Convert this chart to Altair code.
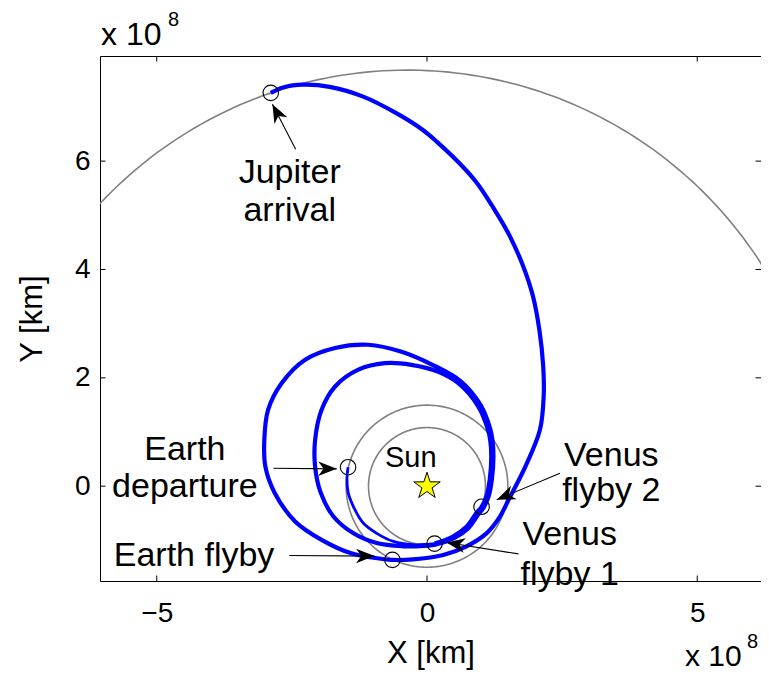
import numpy as np
import pandas as pd
import altair as alt

FONT = "Liberation Sans"

# ---------------- data (units of 1e8 km) ----------------
# launch leg: Earth departure -> Venus flyby 1 (drawn thinner)
departure_x = [-1.46, -1.48, -1.46, -1.36, -1.18, -0.93, -0.62, -0.26, 0.14]
departure_y = [0.35, 0.15, -0.11, -0.38, -0.68, -0.87, -1.02, -1.08, -1.06]

# cruise: VF1 -> inner loop -> VF2 -> outer loop -> Earth flyby -> Jupiter
cruise_x = [0.14, 0.48, 0.73, 0.91, 1.01, 1.10, 1.16, 1.19, 1.17, 1.13, 0.95, 0.58,
            0.21, -0.29, -0.78, -1.27, -1.70, -1.95, -2.07, -2.07, -1.97, -1.73, -1.36,
            -0.93, -0.44, -0.19, 0.15,
            0.50, 0.76, 0.95, 1.05, 1.14, 1.20, 1.23, 1.21, 1.17, 0.99, 0.62, 0.10,
            -0.47, -1.09, -1.70, -2.26, -2.69, -2.94, -3.01, -2.99, -2.82, -2.44, -1.95,
            -1.40, -0.99, -0.64,
            -0.26, 0.30, 0.73, 1.10, 1.35, 1.51, 1.82, 2.09, 2.16, 2.15, 2.08, 1.96, 1.78,
            1.53, 1.22, 0.92, 0.61, 0.18, -0.07, -0.56, -1.18, -1.80, -2.29, -2.66, -2.89]
cruise_y = [-1.06, -0.93, -0.75, -0.50, -0.38, -0.19, 0.12, 0.55, 0.85, 1.04, 1.47, 1.90,
            2.11, 2.24, 2.27, 2.15, 1.84, 1.41, 0.85, 0.36, -0.11, -0.56, -0.87,
            -1.05, -1.11, -1.11, -1.08,
            -0.96, -0.78, -0.52, -0.39, -0.19, 0.12, 0.55, 0.86, 1.06, 1.50, 1.94, 2.24,
            2.48, 2.61, 2.55, 2.33, 1.90, 1.41, 0.85, 0.36, -0.12, -0.65, -0.99,
            -1.24, -1.32, -1.36,
            -1.35, -1.27, -1.11, -0.87, -0.56, -0.25, 0.36, 1.04, 1.68, 2.22, 2.88, 3.51, 4.06,
            4.62, 5.15, 5.60, 5.95, 6.36, 6.57, 6.88, 7.19, 7.37, 7.41, 7.36, 7.26]

# planetary orbits
orbit_body = ["Venus", "Earth", "Jupiter"]
orbit_a = [1.082, 1.496, 7.785]
orbit_e = [0.0, 0.0, 0.0489]
orbit_peri_deg = [0.0, 0.0, 14.75]

# encounter markers
event_x = [-1.46, 0.14, 1.01, -0.64, -2.89]
event_y = [0.35, -1.06, -0.38, -1.36, 7.26]

sun_x = [0.0]
sun_y = [0.0]

# annotation labels (baseline positions, data units)
label_text = ["Jupiter", "arrival", "Earth", "departure", "Earth flyby",
              "Venus", "flyby 2", "Venus", "flyby 1"]
label_x = [-2.54, -2.54, -4.48, -4.48, -4.31, 3.41, 3.41, 2.64, 2.64]
label_y = [5.59, 4.89, 0.49, -0.20, -1.47, 0.37, -0.28, -1.09, -1.82]

sun_text = ["Sun"]
sun_label_x = [-0.30]
sun_label_y = [0.35]

# arrows: tail -> tip
arrow_x = [-2.43, -2.84, -2.55, 2.46, 1.69]
arrow_y = [6.22, 0.33, -1.28, 0.24, -1.25]
tip_x = [-2.86, -1.67, -0.97, 1.29, 0.36]
tip_y = [7.05, 0.32, -1.29, -0.25, -1.04]

xtick_values = [-5, 0, 5]
ytick_values = [0, 2, 4, 6]
x_domain = [-6.05, 6.18]
y_domain = [-1.75, 7.94]

# ---------------- tables ----------------
dep_df = pd.DataFrame({"x": departure_x, "y": departure_y, "i": range(len(departure_x))})
cru_df = pd.DataFrame({"x": cruise_x, "y": cruise_y, "i": range(len(cruise_x))})

rows = []
for b, a, e, w in zip(orbit_body, orbit_a, orbit_e, orbit_peri_deg):
    th = np.radians(np.arange(0, 361, 1.0))
    r = a * (1 - e ** 2) / (1 + e * np.cos(th - np.radians(w)))
    for i, (t, rr) in enumerate(zip(th, r)):
        rows.append({"body": b, "i": i, "x": rr * np.cos(t), "y": rr * np.sin(t)})
orb_df = pd.DataFrame(rows)

ev_df = pd.DataFrame({"x": event_x, "y": event_y})
sun_df = pd.DataFrame({"x": sun_x, "y": sun_y})
lab_df = pd.DataFrame({"x": label_x, "y": label_y, "t": label_text})
sunlab_df = pd.DataFrame({"x": sun_label_x, "y": sun_label_y, "t": sun_text})

ang = (np.degrees(np.arctan2(np.array(tip_x) - np.array(arrow_x),
                             np.array(tip_y) - np.array(arrow_y))) + 360) % 360
arr_df = pd.DataFrame({"x": arrow_x, "y": arrow_y, "x2": tip_x, "y2": tip_y, "ang": ang})

xt_df = pd.DataFrame({"v": xtick_values})
yt_df = pd.DataFrame({"v": ytick_values})

# ---------------- scales / axes ----------------
xs = alt.Scale(domain=x_domain, nice=False, zero=False)
ys = alt.Scale(domain=y_domain, nice=False, zero=False)
xaxis = alt.Axis(values=xtick_values, format="d", title="X [km]", grid=False, ticks=False,
                 tickSize=0, domain=False, labelPadding=18, titlePadding=11, labelFontSize=28,
                 titleFontSize=31)
yaxis = alt.Axis(values=ytick_values, format="d", title="Y [km]", grid=False, ticks=False,
                 tickSize=0, domain=False, labelPadding=10, titlePadding=26, labelFontSize=28,
                 titleFontSize=31)

X = lambda f="x": alt.X(f"{f}:Q", scale=xs, axis=xaxis)
Y = lambda f="y": alt.Y(f"{f}:Q", scale=ys, axis=yaxis)

orbits = alt.Chart(orb_df).mark_line(clip=True, color="#808080", strokeWidth=1.6).encode(
    x=X(), y=Y(), order="i:Q", detail="body:N")

dep_line = alt.Chart(dep_df).mark_line(clip=True, color="#0000FF", strokeWidth=2.8,
                                       interpolate="catmull-rom").encode(x=X(), y=Y(), order="i:Q")
cru_line = alt.Chart(cru_df).mark_line(clip=True, color="#0000FF", strokeWidth=4.2,
                                       interpolate="catmull-rom").encode(x=X(), y=Y(), order="i:Q")

events = alt.Chart(ev_df).mark_point(shape="circle", filled=False, color="black", size=240,
                                     strokeWidth=1.1, opacity=1).encode(x=X(), y=Y())

k = np.arange(10)
rad = np.where(k % 2 == 0, 1.0, 0.382)
phi = np.radians(-90 + 36 * k)
star_path = "M" + " L".join(f"{r*np.cos(p):.4f},{r*np.sin(p):.4f}" for r, p in zip(rad, phi)) + " Z"
sun = alt.Chart(sun_df).mark_point(shape=star_path, filled=True, fill="#FFFF00", stroke="black",
                                   strokeWidth=1, size=780, opacity=1).encode(x=X(), y=Y())

shafts = alt.Chart(arr_df).mark_rule(color="black", strokeWidth=1.1).encode(
    x=X(), y=Y(), x2="x2:Q", y2="y2:Q")
head_path = "M0,0 L0.75,1.9 L0,1.35 L-0.75,1.9 Z"
heads = alt.Chart(arr_df).mark_point(shape=head_path, filled=True, fill="black", stroke=None,
                                     size=380, opacity=1).encode(
    x=X("x2"), y=Y("y2"), angle=alt.Angle("ang:Q", scale=None))

labels = alt.Chart(lab_df).mark_text(font=FONT, fontSize=34, baseline="alphabetic",
                                     align="center", color="black").encode(x=X(), y=Y(), text="t:N")
sun_label = alt.Chart(sunlab_df).mark_text(font=FONT, fontSize=29, baseline="alphabetic",
                                           align="center", color="black").encode(x=X(), y=Y(), text="t:N")

tick_style = dict(color="black", thickness=1, size=11, clip=True, opacity=1)
t_bottom = alt.Chart(xt_df).mark_tick(orient="vertical", **tick_style).encode(
    x=alt.X("v:Q", scale=xs, axis=xaxis), y=alt.Y(datum=y_domain[0]))
t_top = alt.Chart(xt_df).mark_tick(orient="vertical", **tick_style).encode(
    x=alt.X("v:Q", scale=xs, axis=xaxis), y=alt.Y(datum=y_domain[1]))
t_left = alt.Chart(yt_df).mark_tick(orient="horizontal", **tick_style).encode(
    y=alt.Y("v:Q", scale=ys, axis=yaxis), x=alt.X(datum=x_domain[0]))
t_right = alt.Chart(yt_df).mark_tick(orient="horizontal", **tick_style).encode(
    y=alt.Y("v:Q", scale=ys, axis=yaxis), x=alt.X(datum=x_domain[1]))

one = pd.DataFrame({"a": [0]})
exp_base_tl = alt.Chart(one).mark_text(text="x 10", font=FONT, fontSize=32, align="left",
                                       baseline="alphabetic", color="black").encode(
    x=alt.value(1), y=alt.value(-11))
exp_sup_tl = alt.Chart(one).mark_text(text="8", font=FONT, fontSize=20, align="left",
                                      baseline="alphabetic", color="black").encode(
    x=alt.value(68), y=alt.value(-30))
exp_base_br = alt.Chart(one).mark_text(text="x 10", font=FONT, fontSize=30, align="left",
                                       baseline="alphabetic", color="black").encode(
    x=alt.value(585), y=alt.value(610))
exp_sup_br = alt.Chart(one).mark_text(text="8", font=FONT, fontSize=20, align="left",
                                      baseline="alphabetic", color="black").encode(
    x=alt.value(647), y=alt.value(592))

chart = alt.layer(
    orbits, dep_line, cru_line, events, sun, shafts, heads, labels, sun_label,
    t_bottom, t_top, t_left, t_right, exp_base_tl, exp_sup_tl, exp_base_br, exp_sup_br
).properties(
    width=661, height=525,
    autosize=alt.AutoSizeParams(type="none"),
    padding={"left": 92, "top": 48, "right": 0, "bottom": 92},
    background="white",
).configure_view(
    stroke="black", strokeWidth=1
).configure_axis(
    labelFont=FONT, titleFont=FONT, labelColor="black", titleColor="black",
    titleFontWeight="normal"
)

chart.save("out.html", embed_options={"renderer": "svg", "actions": False})
